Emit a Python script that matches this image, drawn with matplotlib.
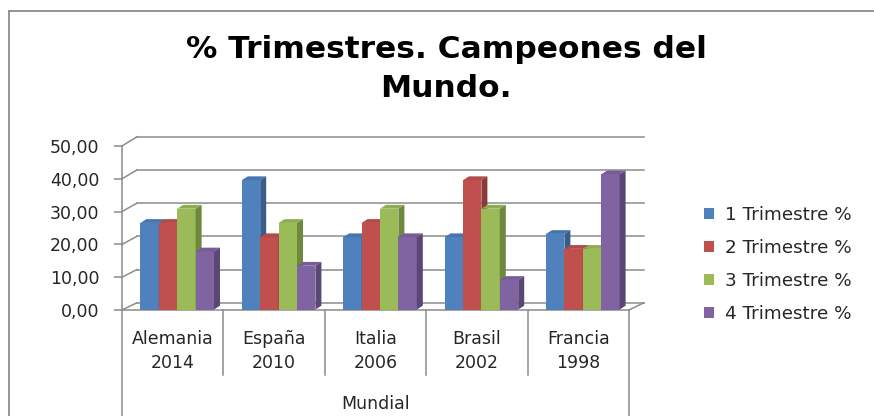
import matplotlib
matplotlib.use("Agg")
import matplotlib.pyplot as plt
from matplotlib.patches import Polygon, Patch
from matplotlib.lines import Line2D
from matplotlib.transforms import blended_transform_factory

# ---------------- data ----------------
categories = ["Alemania\n2014", "España\n2010", "Italia\n2006", "Brasil\n2002", "Francia\n1998"]
series_names = ["1 Trimestre %", "2 Trimestre %", "3 Trimestre %", "4 Trimestre %"]
t1 = [26.09, 39.13, 21.74, 21.74, 22.73]
t2 = [26.09, 21.74, 26.09, 39.13, 18.18]
t3 = [30.43, 26.09, 30.43, 30.43, 18.18]
t4 = [17.39, 13.04, 21.74, 8.70, 40.91]
series = [t1, t2, t3, t4]
yticks = [0, 10, 20, 30, 40, 50]
ytick_labels = ["0,00", "10,00", "20,00", "30,00", "40,00", "50,00"]
title = "% Trimestres. Campeones del\nMundo."
axis_title = "Mundial"

front_colors = ["#4F81BD", "#C0504D", "#9BBB59", "#8064A2"]
top_colors = ["#4776AE", "#B24A47", "#8EAD50", "#765C97"]
side_colors = ["#385D8A", "#8C3836", "#6E883E", "#5A4776"]
grid_color = "#8C8C8C"

W, H, DPI = 874, 416, 100
fig = plt.figure(figsize=(W / DPI, H / DPI), dpi=DPI)

# front plane of the plot (pixels)
x0, x1 = 122, 629
y0, y50 = 310, 146
ax = fig.add_axes([x0 / W, (H - y0) / H, (x1 - x0) / W, (y0 - y50) / H])
n = len(categories)
ax.set_xlim(0, n)
ax.set_ylim(0, 50)
ax.patch.set_visible(False)

px_x = (x1 - x0) / n      # pixels per x data unit
px_y = (y0 - y50) / 50    # pixels per y data unit

def dxd(p):
    return p / px_x

def dyd(p):
    return p / px_y

lw = 1.1
# back wall / side wall gridlines (oblique depth)
DEPTH_X = 15
for v in yticks:
    depth_y = 7.3 + 2.0 * v / 50
    bx, by = dxd(DEPTH_X), v + dyd(depth_y)
    ax.plot([0, bx], [v, by], color=grid_color, lw=lw, clip_on=False, zorder=1)
    ax.plot([bx, n + bx], [by, by], color=grid_color, lw=lw, clip_on=False, zorder=1)
# floor right edge
ax.plot([n, n + dxd(DEPTH_X)], [0, dyd(7.3)], color=grid_color, lw=lw, clip_on=False, zorder=1)

# spines / ticks
for s in ["top", "right"]:
    ax.spines[s].set_visible(False)
for s in ["left", "bottom"]:
    ax.spines[s].set_color(grid_color)
    ax.spines[s].set_linewidth(lw)
ax.set_yticks(yticks)
ax.set_yticklabels(ytick_labels, fontsize=12.5, color="#262626", family="DejaVu Sans")
ax.tick_params(axis="y", direction="out", length=5.8, width=lw, color=grid_color, pad=10.5)
ax.set_xticks([])

# bars with 3D look
bw = 0.1815
shift_x, shift_y = dxd(4.5), dyd(1.5)
side_x, side_y = dxd(6), dyd(3.8)
for c in range(n):
    for i, vals in enumerate(series):
        v = vals[c]
        left = c + 0.5 + (i - 2) * bw + shift_x
        base = shift_y - dyd(1)
        top = v + shift_y
        ax.bar(left, top - base, width=bw, bottom=base, align="edge",
               color=front_colors[i], edgecolor="none", zorder=3 + c * 10 + i * 2)
        ax.add_patch(Polygon([(left, top), (left + bw, top),
                              (left + bw + side_x, top + side_y), (left + side_x, top + side_y)],
                             closed=True, facecolor=top_colors[i], edgecolor="none",
                             zorder=3 + c * 10 + i * 2 + 1, clip_on=False))
        ax.add_patch(Polygon([(left + bw, base), (left + bw + side_x, base + side_y),
                              (left + bw + side_x, top + side_y), (left + bw, top)],
                             closed=True, facecolor=side_colors[i], edgecolor="none",
                             zorder=3 + c * 10 + i * 2 + 1, clip_on=False))

# category label table
bt = blended_transform_factory(ax.transData, fig.transFigure)
for k in range(n + 1):
    ybot = 0.0 if k in (0, n) else (H - 375) / H
    ax.plot([k, k], [(H - y0) / H, ybot], transform=bt, color=grid_color, lw=lw, clip_on=False)
for c, lab in enumerate(categories):
    ax.text(c + 0.5, (H - 351) / H, lab, transform=bt, ha="center", va="center",
            fontsize=12.5, color="#262626", linespacing=1.4, family="DejaVu Sans")
ax.text(n / 2, (H - 404) / H, axis_title, transform=bt, ha="center", va="center",
        fontsize=12.5, color="#262626", family="DejaVu Sans")

# title
fig.text(446 / W, (H - 69) / H, title, ha="center", va="center", fontsize=22.5,
         fontweight="bold", family="DejaVu Sans", linespacing=1.42, color="black")

# legend
handles = [Patch(facecolor=col, edgecolor="none") for col in front_colors]
leg = fig.legend(handles, series_names, loc="upper left", bbox_to_anchor=(704 / W, (H - 206) / H),
                 frameon=False, handlelength=0.55, handleheight=0.55,
                 handletextpad=0.6, labelspacing=0.82, borderpad=0, borderaxespad=0,
                 prop={"family": "DejaVu Sans", "size": 13.2})
for t in leg.get_texts():
    t.set_color("#262626")

# chart-area border (left and top edges)
fig.add_artist(Line2D([9 / W, 9 / W], [0, (H - 11) / H], transform=fig.transFigure,
                      color="#8C8C8C", lw=1.3))
fig.add_artist(Line2D([9 / W, 1], [(H - 11) / H, (H - 11) / H], transform=fig.transFigure,
                      color="#8C8C8C", lw=1.3))

fig.savefig("out.png", dpi=DPI, facecolor="white")
